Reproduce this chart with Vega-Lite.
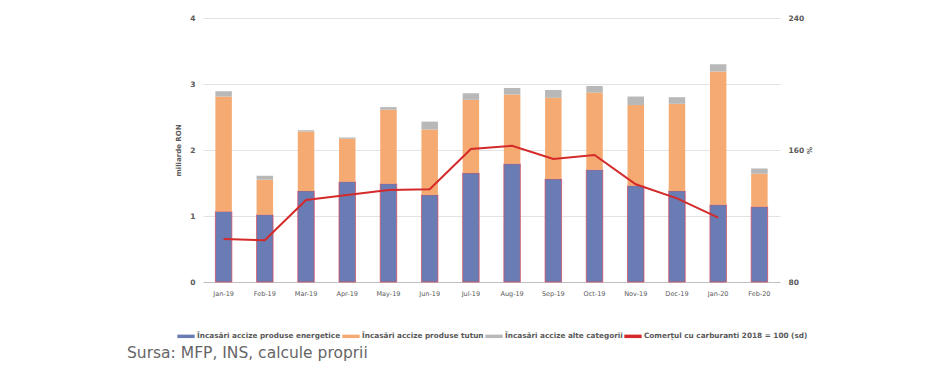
{
  "$schema": "https://vega.github.io/schema/vega-lite/v6.json",
  "autosize": {"type": "none"},
  "width": 577,
  "height": 264,
  "padding": {"left": 203, "top": 18, "right": 150, "bottom": 83},
  "background": "white",
  "config": {
    "view": {"stroke": null},
    "font": "DejaVu Sans",
    "axis": {"labelFont": "DejaVu Sans", "labelColor": "#595959", "titleColor": "#595959", "titleFont": "DejaVu Sans"}
  },
  "title": {
    "text": "Sursa: MFP, INS, calcule proprii",
    "orient": "bottom",
    "anchor": "start",
    "frame": "group",
    "dx": -76,
    "offset": 6,
    "font": "DejaVu Sans",
    "fontSize": 15.5,
    "fontWeight": "normal",
    "color": "#666666"
  },
  "datasets": {
    "bars": [
      {"month": "Jan-19", "cat": "Încasări accize produse energetice", "k": 1, "v": 1.07},
      {"month": "Jan-19", "cat": "Încasări accize produse tutun", "k": 2, "v": 1.74},
      {"month": "Jan-19", "cat": "Încasări accize alte categorii", "k": 3, "v": 0.08},
      {"month": "Feb-19", "cat": "Încasări accize produse energetice", "k": 1, "v": 1.02},
      {"month": "Feb-19", "cat": "Încasări accize produse tutun", "k": 2, "v": 0.53},
      {"month": "Feb-19", "cat": "Încasări accize alte categorii", "k": 3, "v": 0.06},
      {"month": "Mar-19", "cat": "Încasări accize produse energetice", "k": 1, "v": 1.38},
      {"month": "Mar-19", "cat": "Încasări accize produse tutun", "k": 2, "v": 0.90},
      {"month": "Mar-19", "cat": "Încasări accize alte categorii", "k": 3, "v": 0.02},
      {"month": "Apr-19", "cat": "Încasări accize produse energetice", "k": 1, "v": 1.52},
      {"month": "Apr-19", "cat": "Încasări accize produse tutun", "k": 2, "v": 0.65},
      {"month": "Apr-19", "cat": "Încasări accize alte categorii", "k": 3, "v": 0.02},
      {"month": "May-19", "cat": "Încasări accize produse energetice", "k": 1, "v": 1.49},
      {"month": "May-19", "cat": "Încasări accize produse tutun", "k": 2, "v": 1.12},
      {"month": "May-19", "cat": "Încasări accize alte categorii", "k": 3, "v": 0.04},
      {"month": "Jun-19", "cat": "Încasări accize produse energetice", "k": 1, "v": 1.32},
      {"month": "Jun-19", "cat": "Încasări accize produse tutun", "k": 2, "v": 0.99},
      {"month": "Jun-19", "cat": "Încasări accize alte categorii", "k": 3, "v": 0.12},
      {"month": "Jul-19", "cat": "Încasări accize produse energetice", "k": 1, "v": 1.65},
      {"month": "Jul-19", "cat": "Încasări accize produse tutun", "k": 2, "v": 1.11},
      {"month": "Jul-19", "cat": "Încasări accize alte categorii", "k": 3, "v": 0.10},
      {"month": "Aug-19", "cat": "Încasări accize produse energetice", "k": 1, "v": 1.79},
      {"month": "Aug-19", "cat": "Încasări accize produse tutun", "k": 2, "v": 1.05},
      {"month": "Aug-19", "cat": "Încasări accize alte categorii", "k": 3, "v": 0.10},
      {"month": "Sep-19", "cat": "Încasări accize produse energetice", "k": 1, "v": 1.56},
      {"month": "Sep-19", "cat": "Încasări accize produse tutun", "k": 2, "v": 1.23},
      {"month": "Sep-19", "cat": "Încasări accize alte categorii", "k": 3, "v": 0.12},
      {"month": "Oct-19", "cat": "Încasări accize produse energetice", "k": 1, "v": 1.70},
      {"month": "Oct-19", "cat": "Încasări accize produse tutun", "k": 2, "v": 1.17},
      {"month": "Oct-19", "cat": "Încasări accize alte categorii", "k": 3, "v": 0.10},
      {"month": "Nov-19", "cat": "Încasări accize produse energetice", "k": 1, "v": 1.46},
      {"month": "Nov-19", "cat": "Încasări accize produse tutun", "k": 2, "v": 1.22},
      {"month": "Nov-19", "cat": "Încasări accize alte categorii", "k": 3, "v": 0.13},
      {"month": "Dec-19", "cat": "Încasări accize produse energetice", "k": 1, "v": 1.38},
      {"month": "Dec-19", "cat": "Încasări accize produse tutun", "k": 2, "v": 1.32},
      {"month": "Dec-19", "cat": "Încasări accize alte categorii", "k": 3, "v": 0.10},
      {"month": "Jan-20", "cat": "Încasări accize produse energetice", "k": 1, "v": 1.17},
      {"month": "Jan-20", "cat": "Încasări accize produse tutun", "k": 2, "v": 2.02},
      {"month": "Jan-20", "cat": "Încasări accize alte categorii", "k": 3, "v": 0.11},
      {"month": "Feb-20", "cat": "Încasări accize produse energetice", "k": 1, "v": 1.14},
      {"month": "Feb-20", "cat": "Încasări accize produse tutun", "k": 2, "v": 0.50},
      {"month": "Feb-20", "cat": "Încasări accize alte categorii", "k": 3, "v": 0.08}
    ],
    "line": [
      {"month": "Jan-19", "pct": 106.1},
      {"month": "Feb-19", "pct": 105.3},
      {"month": "Mar-19", "pct": 129.7},
      {"month": "Apr-19", "pct": 132.7},
      {"month": "May-19", "pct": 135.8},
      {"month": "Jun-19", "pct": 136.2},
      {"month": "Jul-19", "pct": 160.6},
      {"month": "Aug-19", "pct": 162.6},
      {"month": "Sep-19", "pct": 154.5},
      {"month": "Oct-19", "pct": 157.0},
      {"month": "Nov-19", "pct": 139.2},
      {"month": "Dec-19", "pct": 130.7},
      {"month": "Jan-20", "pct": 119.0}
    ]
  },
  "encoding": {
    "x": {
      "field": "month",
      "type": "nominal",
      "sort": ["Jan-19","Feb-19","Mar-19","Apr-19","May-19","Jun-19","Jul-19","Aug-19","Sep-19","Oct-19","Nov-19","Dec-19","Jan-20","Feb-20"],
      "scale": {"paddingInner": 0.6, "paddingOuter": 0.3},
      "axis": {
        "title": null,
        "labelAngle": 0,
        "labelFontSize": 6.5,
        "labelPadding": 8,
        "ticks": false,
        "domainColor": "#bfbfbf",
        "domainWidth": 1
      }
    }
  },
  "layer": [
    {
      "data": {"name": "bars"},
      "mark": {"type": "bar", "stroke": "#d9485a", "strokeWidth": 0.8},
      "encoding": {
        "y": {
          "field": "v",
          "type": "quantitative",
          "stack": "zero",
          "scale": {"domain": [0, 4], "nice": false},
          "axis": {
            "title": "miliarde RON",
            "titleFontSize": 7,
            "titleFontWeight": "bold",
            "titlePadding": 8,
            "values": [0, 1, 2, 3, 4],
            "labelFontSize": 7.5,
            "labelFontWeight": "bold",
            "labelPadding": 8,
            "ticks": false,
            "domain": false,
            "gridColor": "#e3e3e3",
            "gridWidth": 1
          }
        },
        "order": {"field": "k", "type": "quantitative"},
        "color": {
          "field": "cat",
          "type": "nominal",
          "scale": {
            "domain": ["Încasări accize produse energetice", "Încasări accize produse tutun", "Încasări accize alte categorii", "Comerțul cu carburanti 2018 = 100 (sd)"],
            "range": ["#6a7cb4", "#f5aa72", "#b8b8b8", "#d42a2a"]
          },
          "legend": {
            "title": null,
            "orient": "none",
            "legendX": -26,
            "legendY": 309,
            "direction": "horizontal",
            "columns": 4,
            "labelFont": "DejaVu Sans",
            "labelFontSize": 7.3,
            "labelFontWeight": "bold",
            "labelColor": "#595959",
            "labelLimit": 300,
            "labelOffset": 2,
            "columnPadding": 1,
            "symbolSize": 300,
            "symbolType": "M-1,-0.2H1V0.2H-1Z",
            "symbolStrokeWidth": 0,
            "symbolOpacity": 1
          }
        },
        "strokeOpacity": {
          "condition": {"test": "datum.k == 1", "value": 0.9},
          "value": 0
        }
      }
    },
    {
      "data": {"name": "line"},
      "mark": {"type": "line", "strokeWidth": 2},
      "encoding": {
        "y": {
          "field": "pct",
          "type": "quantitative",
          "scale": {"domain": [80, 240], "nice": false},
          "axis": {
            "orient": "right",
            "title": "%",
            "titleFontSize": 7,
            "titleFontWeight": "bold",
            "titlePadding": 2,
            "values": [80, 160, 240],
            "labelFontSize": 7.5,
            "labelFontWeight": "bold",
            "labelPadding": 8,
            "ticks": false,
            "domain": false,
            "grid": false
          }
        },
        "color": {"datum": "Comerțul cu carburanti 2018 = 100 (sd)", "type": "nominal"}
      }
    }
  ],
  "resolve": {"scale": {"y": "independent"}}
}
